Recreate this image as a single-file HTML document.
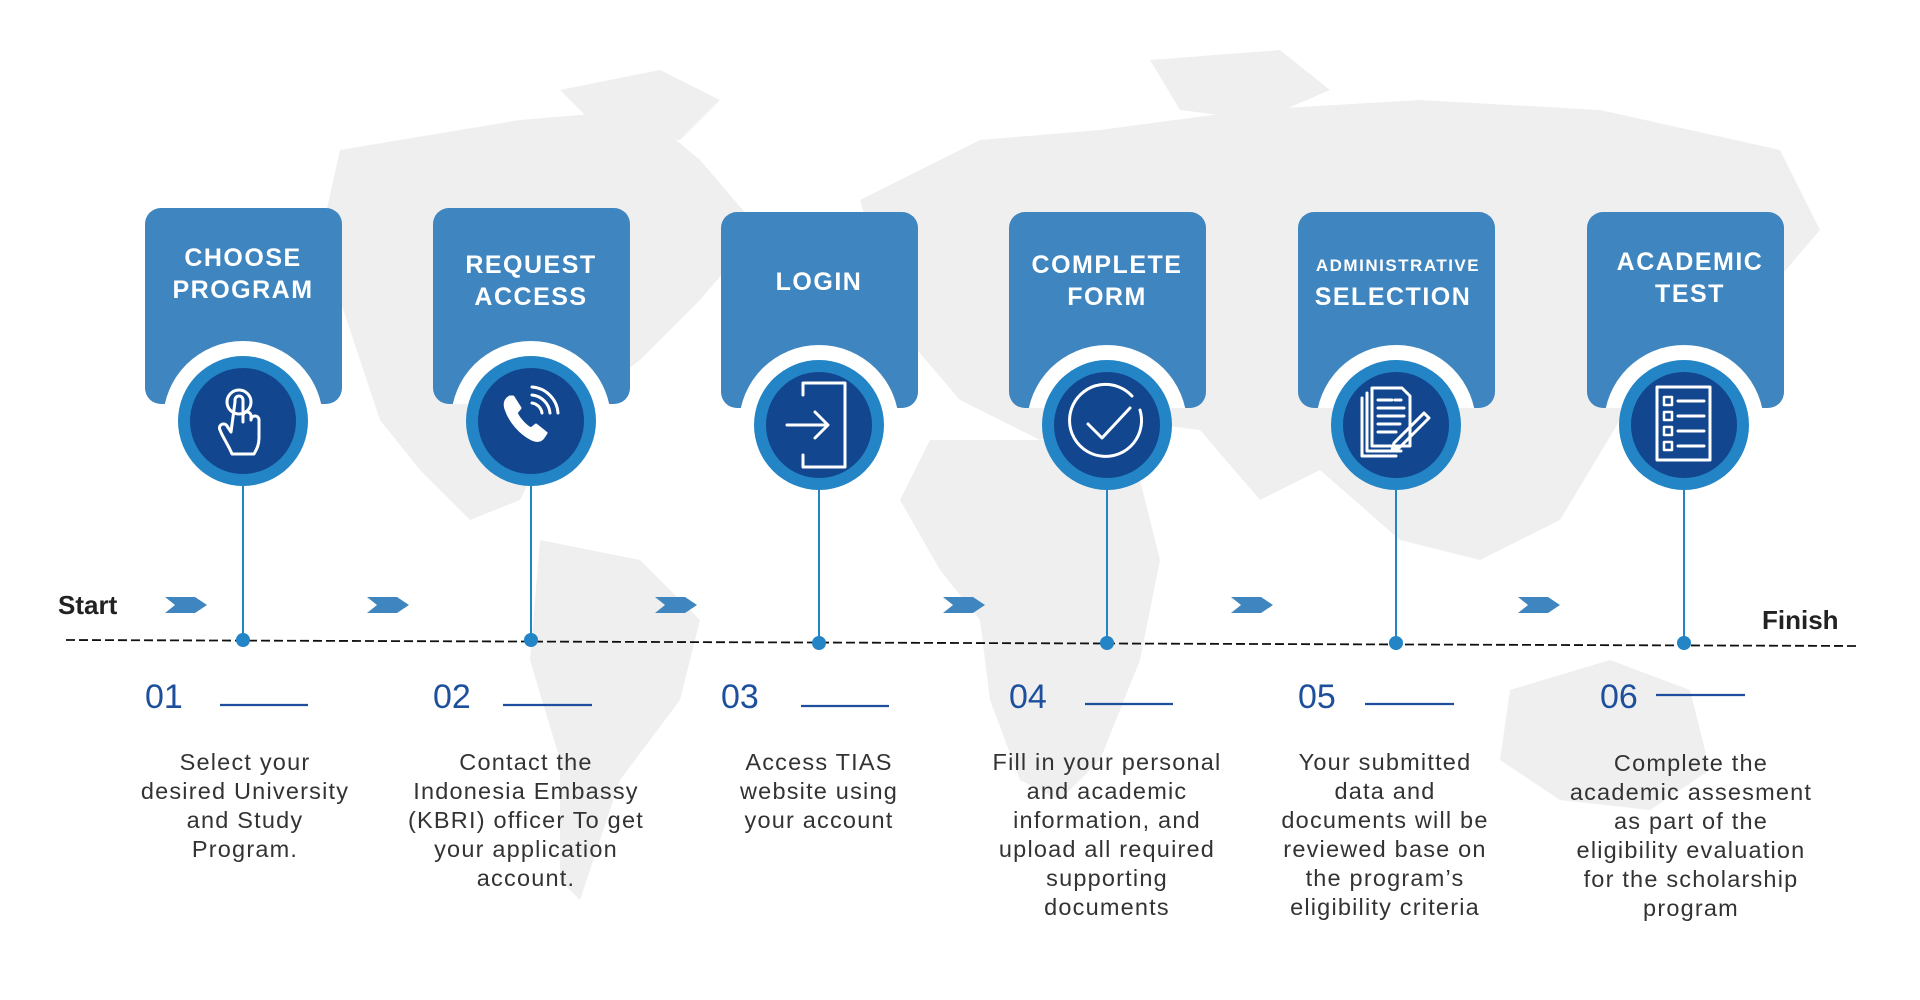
<!DOCTYPE html>
<html><head><meta charset="utf-8"><style>
html,body{margin:0;padding:0;background:#fff;}
svg{display:block}
.t{font-family:"Liberation Sans",sans-serif;font-weight:bold;fill:#fff;letter-spacing:1.5px;text-anchor:middle}
.d{font-family:"Liberation Sans",sans-serif;fill:#333;font-size:23.5px;letter-spacing:1.2px;text-anchor:middle}
.n{font-family:"Liberation Sans",sans-serif;fill:#1d4f9c;font-size:34px}
</style></head><body>
<svg width="1920" height="1000" viewBox="0 0 1920 1000" xmlns="http://www.w3.org/2000/svg">
<defs>
<clipPath id="c1"><rect x="145" y="208" width="197" height="196" rx="16"/></clipPath>
<clipPath id="c2"><rect x="433" y="208" width="197" height="196" rx="16"/></clipPath>
<clipPath id="c3"><rect x="721" y="212" width="197" height="196" rx="16"/></clipPath>
<clipPath id="c4"><rect x="1009" y="212" width="197" height="196" rx="16"/></clipPath>
<clipPath id="c5"><rect x="1298" y="212" width="197" height="196" rx="16"/></clipPath>
<clipPath id="c6"><rect x="1587" y="212" width="197" height="196" rx="16"/></clipPath>
</defs>
<!-- map background -->
<g fill="#efefef">
<path d="M340 150 L520 120 L640 110 L700 160 L760 230 L700 300 L640 360 L560 420 L520 500 L470 520 L420 470 L380 420 L350 330 L320 240 Z"/>
<path d="M560 90 L660 70 L720 100 L680 140 L600 130 Z"/>
<path d="M540 540 L640 560 L700 620 L680 700 L620 780 L580 900 L560 880 L560 760 L530 660 Z"/>
<path d="M860 200 L980 140 L1100 130 L1250 110 L1420 100 L1600 110 L1780 150 L1820 230 L1760 300 L1700 380 L1620 420 L1560 520 L1480 560 L1400 540 L1320 470 L1260 500 L1200 430 L1120 420 L1040 440 L960 400 L900 330 Z"/>
<path d="M930 440 L1060 440 L1140 480 L1160 560 L1140 660 L1100 760 L1060 800 L1020 780 L990 700 L980 620 L940 570 L900 500 Z"/>
<path d="M1510 690 L1610 660 L1690 690 L1710 770 L1650 810 L1560 800 L1500 760 Z"/>
<path d="M1150 60 L1280 50 L1330 90 L1260 120 L1180 110 Z"/>
</g>
<!-- timeline -->
<line x1="66" y1="640" x2="1857" y2="646" stroke="#111" stroke-width="1.8" stroke-dasharray="9 4"/>
<text x="58" y="614" font-family="Liberation Sans,sans-serif" font-weight="bold" font-size="26" fill="#222">Start</text>
<text x="1762" y="629" font-family="Liberation Sans,sans-serif" font-weight="bold" font-size="26" fill="#222">Finish</text>
<g fill="#3f86c0">
<path d="M165 597 h30 l12 8 l-12 8 h-30 l10 -8 z"/>
<path d="M367 597 h30 l12 8 l-12 8 h-30 l10 -8 z"/>
<path d="M655 597 h30 l12 8 l-12 8 h-30 l10 -8 z"/>
<path d="M943 597 h30 l12 8 l-12 8 h-30 l10 -8 z"/>
<path d="M1231 597 h30 l12 8 l-12 8 h-30 l10 -8 z"/>
<path d="M1518 597 h30 l12 8 l-12 8 h-30 l10 -8 z"/>
</g>
<g>
<!-- col1 -->
<rect x="145" y="208" width="197" height="196" rx="16" fill="#3f86c0"/>
<circle cx="243" cy="421" r="80" fill="#fff" clip-path="url(#c1)"/>
<circle cx="243" cy="421" r="65" fill="#2384c6"/><circle cx="243" cy="421" r="53" fill="#12468f"/>
<line x1="243" y1="486" x2="243" y2="640" stroke="#2384c6" stroke-width="2"/><circle cx="243" cy="640" r="7" fill="#2384c6"/>
<text class="t" font-size="25" x="243" y="266">CHOOSE</text><text class="t" font-size="25" x="243" y="298">PROGRAM</text>
<!-- col2 -->
<rect x="433" y="208" width="197" height="196" rx="16" fill="#3f86c0"/>
<circle cx="531" cy="421" r="80" fill="#fff" clip-path="url(#c2)"/>
<circle cx="531" cy="421" r="65" fill="#2384c6"/><circle cx="531" cy="421" r="53" fill="#12468f"/>
<line x1="531" y1="486" x2="531" y2="640" stroke="#2384c6" stroke-width="2"/><circle cx="531" cy="640" r="7" fill="#2384c6"/>
<text class="t" font-size="25" x="531" y="273">REQUEST</text><text class="t" font-size="25" x="531" y="305">ACCESS</text>
<!-- col3 -->
<rect x="721" y="212" width="197" height="196" rx="16" fill="#3f86c0"/>
<circle cx="819" cy="425" r="80" fill="#fff" clip-path="url(#c3)"/>
<circle cx="819" cy="425" r="65" fill="#2384c6"/><circle cx="819" cy="425" r="53" fill="#12468f"/>
<line x1="819" y1="490" x2="819" y2="643" stroke="#2384c6" stroke-width="2"/><circle cx="819" cy="643" r="7" fill="#2384c6"/>
<text class="t" font-size="25" x="819" y="290">LOGIN</text>
<!-- col4 -->
<rect x="1009" y="212" width="197" height="196" rx="16" fill="#3f86c0"/>
<circle cx="1107" cy="425" r="80" fill="#fff" clip-path="url(#c4)"/>
<circle cx="1107" cy="425" r="65" fill="#2384c6"/><circle cx="1107" cy="425" r="53" fill="#12468f"/>
<line x1="1107" y1="490" x2="1107" y2="643" stroke="#2384c6" stroke-width="2"/><circle cx="1107" cy="643" r="7" fill="#2384c6"/>
<text class="t" font-size="25" x="1107" y="273">COMPLETE</text><text class="t" font-size="25" x="1107" y="305">FORM</text>
<!-- col5 -->
<rect x="1298" y="212" width="197" height="196" rx="16" fill="#3f86c0"/>
<circle cx="1396" cy="425" r="80" fill="#fff" clip-path="url(#c5)"/>
<circle cx="1396" cy="425" r="65" fill="#2384c6"/><circle cx="1396" cy="425" r="53" fill="#12468f"/>
<line x1="1396" y1="490" x2="1396" y2="643" stroke="#2384c6" stroke-width="2"/><circle cx="1396" cy="643" r="7" fill="#2384c6"/>
<text class="t" font-size="17" x="1398" y="271" letter-spacing="1">ADMINISTRATIVE</text><text class="t" font-size="25" x="1393" y="305">SELECTION</text>
<!-- col6 -->
<rect x="1587" y="212" width="197" height="196" rx="16" fill="#3f86c0"/>
<circle cx="1684" cy="425" r="80" fill="#fff" clip-path="url(#c6)"/>
<circle cx="1684" cy="425" r="65" fill="#2384c6"/><circle cx="1684" cy="425" r="53" fill="#12468f"/>
<line x1="1684" y1="490" x2="1684" y2="643" stroke="#2384c6" stroke-width="2"/><circle cx="1684" cy="643" r="7" fill="#2384c6"/>
<text class="t" font-size="25" x="1690" y="270">ACADEMIC</text><text class="t" font-size="25" x="1690" y="302">TEST</text>
</g>
<!-- icons -->
<g fill="none" stroke="#fff" stroke-width="3" stroke-linecap="round" stroke-linejoin="round">
<circle cx="239" cy="402" r="12"/>
<path d="M235 402 v-2 a4 4 0 0 1 8 0 v22 v-6 a4 4 0 0 1 8 0 v4 a4 4 0 0 1 8 0 v18 c0 8 -3 12 -5 16 h-22 c-3 -8 -10 -18 -12 -24 a4 4 0 0 1 7 -4 l4 6 z"/>
<path d="M510 397 c-4 2 -6 6 -4 12 c4 12 14 24 26 30 c6 3 10 1 12 -3 l2 -3 l-10 -8 l-5 4 c-6 -3 -12 -10 -15 -16 l4 -5 l-7 -11 z" fill="#fff"/>
<path d="M532 403 a12 12 0 0 1 10 10 M532 395 a20 20 0 0 1 18 18 M532 387 a28 28 0 0 1 26 26"/>
<path d="M803 395 v-12 h42 v84 h-42 v-12"/>
<path d="M787 425 h40 M815 412 l13 13 l-13 13"/>
<path d="M1140 410 a36 36 0 1 1 -8 -14"/>
<path d="M1088 424 l14 14 l28 -30"/>
<path d="M1362 398 v58 h34 M1367 393 v58 h34"/>
<path d="M1372 388 h30 l8 8 v50 h-38 z"/>
<path d="M1378 400 h14 M1395 400 h2 M1399 400 h2 M1378 408 h26 M1378 416 h26 M1378 424 h22 M1378 432 h18"/>
<path d="M1394 443 l30 -30 l5 5 l-30 30 l-7 2 z"/>
<rect x="1657" y="387" width="53" height="73"/>
<path d="M1664 397 h8 v8 h-8 z M1664 412 h8 v8 h-8 z M1664 427 h8 v8 h-8 z M1664 442 h8 v8 h-8 z" stroke-width="2.5"/>
<path d="M1678 401 h26 M1678 416 h26 M1678 431 h26 M1678 446 h26"/>
</g>
<!-- numbers -->
<g class="n">
<text x="145" y="708">01</text><text x="433" y="708">02</text><text x="721" y="708">03</text>
<text x="1009" y="708">04</text><text x="1298" y="708">05</text><text x="1600" y="708">06</text>
</g>
<g stroke="#1d4f9c" stroke-width="2.2">
<line x1="220" y1="705" x2="308" y2="705"/><line x1="503" y1="705" x2="592" y2="705"/>
<line x1="801" y1="706" x2="889" y2="706"/><line x1="1085" y1="704" x2="1173" y2="704"/>
<line x1="1365" y1="704" x2="1454" y2="704"/><line x1="1656" y1="695" x2="1745" y2="695"/>
</g>
<!-- descriptions -->
<text class="d" x="245" y="770">Select your</text><text class="d" x="245" y="799">desired University</text><text class="d" x="245" y="828">and Study</text><text class="d" x="245" y="857">Program.</text>
<text class="d" x="526" y="770">Contact the</text><text class="d" x="526" y="799">Indonesia Embassy</text><text class="d" x="526" y="828">(KBRI) officer To get</text><text class="d" x="526" y="857">your application</text><text class="d" x="526" y="886">account.</text>
<text class="d" x="819" y="770">Access TIAS</text><text class="d" x="819" y="799">website using</text><text class="d" x="819" y="828">your account</text>
<text class="d" x="1107" y="770">Fill in your personal</text><text class="d" x="1107" y="799">and academic</text><text class="d" x="1107" y="828">information, and</text><text class="d" x="1107" y="857">upload all required</text><text class="d" x="1107" y="886">supporting</text><text class="d" x="1107" y="915">documents</text>
<text class="d" x="1385" y="770">Your submitted</text><text class="d" x="1385" y="799">data and</text><text class="d" x="1385" y="828">documents will be</text><text class="d" x="1385" y="857">reviewed base on</text><text class="d" x="1385" y="886">the program’s</text><text class="d" x="1385" y="915">eligibility criteria</text>
<text class="d" x="1691" y="771">Complete the</text><text class="d" x="1691" y="800">academic assesment</text><text class="d" x="1691" y="829">as part of the</text><text class="d" x="1691" y="858">eligibility evaluation</text><text class="d" x="1691" y="887">for the scholarship</text><text class="d" x="1691" y="916">program</text>
</svg>
</body></html>
